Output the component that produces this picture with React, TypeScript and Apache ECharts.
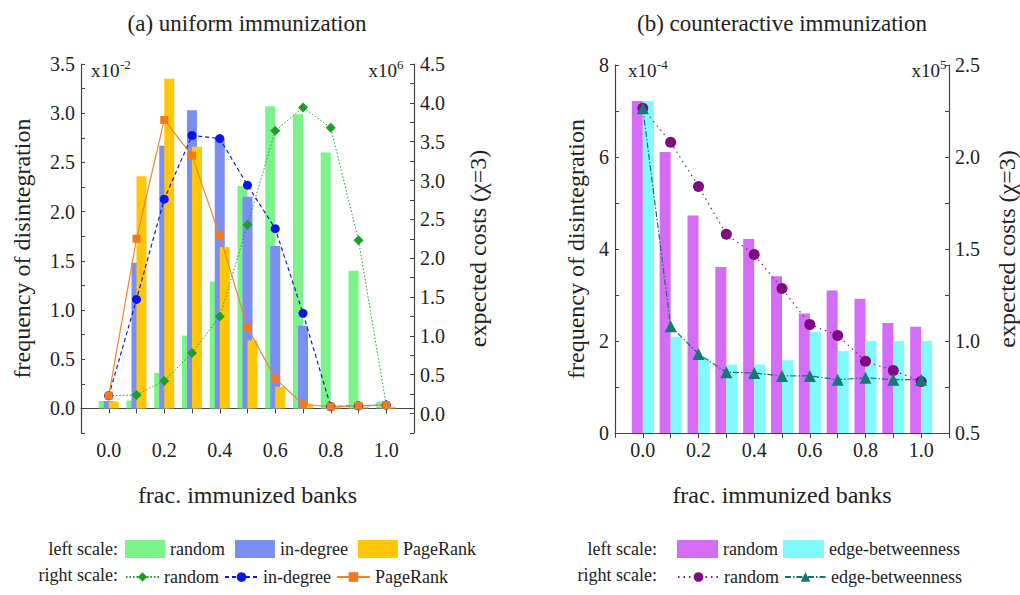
import React, { useEffect, useRef } from 'react';
import * as echarts from 'echarts';

const FONT = 'Liberation Serif';

// x categories (fraction of immunized banks)
const fracs = ['0.0', '0.1', '0.2', '0.3', '0.4', '0.5', '0.6', '0.7', '0.8', '0.9', '1.0'];
const axisCats = ['-0.1', ...fracs, '1.1'];

// (a) uniform immunization — left scale (x10^-2)
const randomBarA = [0.075, 0.08, 0.36, 0.74, 1.29, 2.26, 3.07, 2.99, 2.6, 1.4, 0.07];
const indegBarA = [0.075, 1.48, 2.67, 3.03, 2.74, 2.15, 1.65, 0.84, 0.03, 0.02, 0.02];
const pagerankBarA = [0.07, 2.36, 3.35, 2.66, 1.64, 0.69, 0.22, 0.04, 0.025, 0.015, 0.015];
// (a) right scale (x10^6)
const randomLineA = [0.23, 0.24, 0.42, 0.78, 1.25, 2.43, 3.64, 3.94, 3.68, 2.23, 0.11];
const indegLineA = [0.23, 1.47, 2.76, 3.58, 3.54, 2.94, 2.38, 1.29, 0.09, 0.1, 0.11];
const pagerankLineA = [0.23, 2.25, 3.78, 3.32, 2.29, 1.11, 0.45, 0.12, 0.09, 0.1, 0.11];

// (b) counteractive immunization — left scale (x10^-4)
const randomBarB = [7.22, 6.11, 4.73, 3.61, 4.22, 3.41, 2.6, 3.1, 2.92, 2.39, 2.31];
const edgeBarB = [7.22, 2.09, 1.62, 1.49, 1.49, 1.58, 2.2, 1.78, 2.0, 2.0, 2.0];
// (b) right scale (x10^5)
const randomLineB = [2.265, 2.08, 1.84, 1.58, 1.47, 1.285, 1.09, 1.03, 0.89, 0.84, 0.78];
const edgeLineB = [2.265, 1.08, 0.93, 0.83, 0.826, 0.81, 0.81, 0.79, 0.8, 0.79, 0.79];

const pad = (arr: number[]) => [null, ...arr, null];

const AXIS_COLOR = '#444';
const TEXT_COLOR = '#222';

function makeX(gridIndex: number) {
  return {
    type: 'category',
    gridIndex,
    data: axisCats,
    boundaryGap: false,
    axisLine: { show: true, lineStyle: { color: AXIS_COLOR, width: 1.2 } },
    axisTick: { show: true, interval: 0, length: 5, inside: false, lineStyle: { color: AXIS_COLOR } },
    axisLabel: {
      interval: (i: number) => i >= 1 && i <= 11 && (i - 1) % 2 === 0,
      fontFamily: FONT,
      fontSize: 20,
      color: TEXT_COLOR,
      margin: 7,
    },
    splitLine: { show: false },
    name: 'frac. immunized banks',
    nameLocation: 'middle',
    nameGap: 50,
    nameTextStyle: { fontFamily: FONT, fontSize: 24, color: TEXT_COLOR },
  };
}

function makeY(opts: any) {
  const { gridIndex, position, min, max, interval, formatter, name, nameGap } = opts;
  return {
    type: 'value',
    gridIndex,
    position,
    min,
    max,
    interval,
    axisLine: { show: true, lineStyle: { color: AXIS_COLOR, width: 1.2 } },
    axisTick: { show: true, inside: true, length: 4, lineStyle: { color: AXIS_COLOR } },
    axisLabel: { formatter, fontFamily: FONT, fontSize: 20, color: TEXT_COLOR, margin: 6 },
    splitLine: { show: false },
    name,
    nameLocation: 'middle',
    nameRotate: 90,
    nameGap,
    nameTextStyle: { fontFamily: FONT, fontSize: 24, color: TEXT_COLOR },
  };
}

const halfFmt = (v: number) => {
  const q = Math.round(v * 4);
  return q >= 0 && q % 2 === 0 ? (q / 4).toFixed(1) : '';
};
const evenFmt = (v: number) => {
  const r = Math.round(v);
  return r % 2 === 0 ? String(r) : '';
};

const txt = (x: number, y: number, text: string, size: number, align: string) => ({
  type: 'text',
  x,
  y,
  silent: true,
  style: {
    text,
    fill: TEXT_COLOR,
    fontFamily: FONT,
    fontSize: size,
    textAlign: align,
    textVerticalAlign: 'middle',
  },
});

const legendText = () => ({ fontFamily: FONT, fontSize: 18, color: TEXT_COLOR });
const stripName = (n: string) => n.split('|')[0];

const option: any = {
  animation: false,
  backgroundColor: '#ffffff',
  grid: [
    { left: 81, right: 1020 - 414, top: 64, bottom: 595 - 433, containLabel: false },
    { left: 615, right: 1020 - 949, top: 65, bottom: 595 - 433, containLabel: false },
  ],
  xAxis: [makeX(0), makeX(1)],
  yAxis: [
    makeY({ gridIndex: 0, position: 'left', min: -0.25, max: 3.5, interval: 0.25, formatter: halfFmt, name: 'frequency of disintegration', nameGap: 47 }),
    makeY({ gridIndex: 0, position: 'right', min: -0.25, max: 4.5, interval: 0.25, formatter: halfFmt, name: 'expected costs (χ=3)', nameGap: 52 }),
    makeY({ gridIndex: 1, position: 'left', min: 0, max: 8, interval: 1, formatter: evenFmt, name: 'frequency of disintegration', nameGap: 27 }),
    makeY({ gridIndex: 1, position: 'right', min: 0.5, max: 2.5, interval: 0.25, formatter: halfFmt, name: 'expected costs (χ=3)', nameGap: 46 }),
  ],
  legend: [
    {
      left: 125, top: 540, padding: 0, itemWidth: 40, itemHeight: 18, itemGap: 10, icon: 'rect',
      data: ['random|a-bar', 'in-degree|a-bar', 'PageRank|a-bar'], formatter: stripName, textStyle: legendText(),
      selectedMode: false,
    },
    {
      left: 125, top: 568, padding: 0, itemWidth: 33, itemHeight: 12, itemGap: 5,
      data: ['random|a-line', 'in-degree|a-line', 'PageRank|a-line'], formatter: stripName, textStyle: legendText(),
      selectedMode: false,
    },
    {
      left: 677, top: 540, padding: 0, itemWidth: 41, itemHeight: 18, itemGap: 5, icon: 'rect',
      data: ['random|b-bar', 'edge-betweenness|b-bar'], formatter: stripName, textStyle: legendText(),
      selectedMode: false,
    },
    {
      left: 677, top: 568, padding: 0, itemWidth: 41, itemHeight: 12, itemGap: 5,
      data: ['random|b-line', 'edge-betweenness|b-line'], formatter: stripName, textStyle: legendText(),
      selectedMode: false,
    },
  ],
  graphic: [
    txt(247, 23, '(a) uniform immunization', 23, 'center'),
    txt(782, 23, '(b) counteractive immunization', 23, 'center'),
    txt(118, 549, 'left scale:', 18, 'right'),
    txt(118, 575, 'right scale:', 18, 'right'),
    txt(657, 549, 'left scale:', 18, 'right'),
    txt(657, 575, 'right scale:', 18, 'right'),
    txt(91, 70, 'x10', 19, 'left'),
    txt(120, 64, '-2', 13, 'left'),
    txt(397, 70, 'x10', 19, 'right'),
    txt(397, 64, '6', 13, 'left'),
    txt(628, 70, 'x10', 19, 'left'),
    txt(657, 64, '-4', 13, 'left'),
    txt(940, 70, 'x10', 19, 'right'),
    txt(940, 64, '5', 13, 'left'),
  ],
  series: [
    // (a) bars
    { name: 'random|a-bar', type: 'bar', xAxisIndex: 0, yAxisIndex: 0, data: pad(randomBarA), barWidth: 10, barGap: '-50%', itemStyle: { color: '#7CF38A' } },
    { name: 'in-degree|a-bar', type: 'bar', xAxisIndex: 0, yAxisIndex: 0, data: pad(indegBarA), barWidth: 10, barGap: '-50%', itemStyle: { color: '#7B8EF2' } },
    { name: 'PageRank|a-bar', type: 'bar', xAxisIndex: 0, yAxisIndex: 0, data: pad(pagerankBarA), barWidth: 10, barGap: '-50%', itemStyle: { color: '#FFC60A' } },
    // (a) lines
    {
      name: 'random|a-line', type: 'line', xAxisIndex: 0, yAxisIndex: 1, data: pad(randomLineA),
      symbol: 'diamond', symbolSize: 10, lineStyle: { color: '#1E9E28', width: 1, type: [1.5, 2] }, itemStyle: { color: '#1E9E28' },
    },
    {
      name: 'in-degree|a-line', type: 'line', xAxisIndex: 0, yAxisIndex: 1, data: pad(indegLineA),
      symbol: 'circle', symbolSize: 9, lineStyle: { color: '#1018E0', width: 1.2, type: [4, 3] }, itemStyle: { color: '#0A12EE' },
    },
    {
      name: 'PageRank|a-line', type: 'line', xAxisIndex: 0, yAxisIndex: 1, data: pad(pagerankLineA),
      symbol: 'rect', symbolSize: 8, lineStyle: { color: '#F0862A', width: 1.2, type: 'solid' }, itemStyle: { color: '#F07A1E' },
    },
    // (b) bars
    { name: 'random|b-bar', type: 'bar', xAxisIndex: 1, yAxisIndex: 2, data: pad(randomBarB), barWidth: 11, barGap: '0%', itemStyle: { color: '#D46CF8' } },
    { name: 'edge-betweenness|b-bar', type: 'bar', xAxisIndex: 1, yAxisIndex: 2, data: pad(edgeBarB), barWidth: 11, barGap: '0%', itemStyle: { color: '#80FAFA' } },
    // (b) lines
    {
      name: 'random|b-line', type: 'line', xAxisIndex: 1, yAxisIndex: 3, data: pad(randomLineB),
      symbol: 'circle', symbolSize: 11, lineStyle: { color: '#8A1A8A', width: 1.2, type: [1.5, 4] }, itemStyle: { color: '#800A80' },
    },
    {
      name: 'edge-betweenness|b-line', type: 'line', xAxisIndex: 1, yAxisIndex: 3, data: pad(edgeLineB),
      symbol: 'triangle', symbolSize: 12, lineStyle: { color: '#1A6E78', width: 1.2, type: [6, 2, 1.5, 2] }, itemStyle: { color: '#127A72' },
    },
  ],
};

export default function App() {
  const ref = useRef<HTMLDivElement>(null);
  useEffect(() => {
    if (!ref.current) return;
    const chart = echarts.init(ref.current, null, { renderer: 'svg' });
    chart.setOption(option);
    return () => chart.dispose();
  }, []);
  return (
    <div
      ref={ref}
      style={{ position: 'fixed', left: 0, top: 0, width: 1020, height: 595, background: '#fff' }}
    />
  );
}
